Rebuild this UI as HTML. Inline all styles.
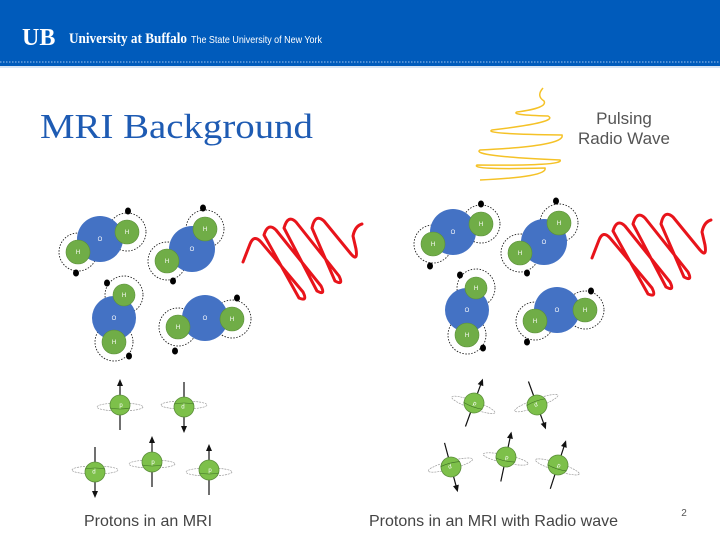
<!DOCTYPE html>
<html><head><meta charset="utf-8"><style>
html,body{margin:0;padding:0;background:#fff}
svg{display:block}
</style></head><body>
<svg width="720" height="540" viewBox="0 0 720 540" xmlns="http://www.w3.org/2000/svg" font-family="Liberation Sans, sans-serif">
<defs>
<g id="w">
<path d="M243,262 L250,244 Q254,234 261,242 L303,292 Q308,302 299,298 L264,235 Q268,222 276,230 L321,286 Q326,296 317,291 L284,228 Q288,214 296,222 L339,276 Q344,286 335,281 L312,228 Q315,213 324,221 L351,254 Q358,262 356,249 L353,236 Q355,226 362,224" fill="none" stroke="#e8141b" stroke-width="3" stroke-linejoin="round" stroke-linecap="round"/>
</g>
</defs>
<rect x="0" y="0" width="720" height="68" fill="#005bbb"/>
<line x1="0" y1="62" x2="720" y2="62" stroke="#9fc3ee" stroke-width="1" stroke-dasharray="1.5,1.5"/>
<rect x="0" y="66" width="720" height="2" fill="#d9e6f5"/>
<text x="22" y="45" fill="#fff" font-family="Liberation Serif, serif" font-weight="bold" font-size="24">UB</text>
<text x="69" y="43" fill="#fff" font-family="Liberation Serif, serif" font-weight="bold" font-size="15" textLength="118" lengthAdjust="spacingAndGlyphs">University at Buffalo</text>
<text x="191" y="43" fill="#fff" font-size="10.5" textLength="131" lengthAdjust="spacingAndGlyphs">The State University of New York</text>

<text x="40" y="138" fill="#1e5bb3" font-family="Liberation Serif, serif" font-size="35" textLength="273" lengthAdjust="spacingAndGlyphs">MRI Background</text>
<text x="624" y="124" fill="#555" font-size="17" text-anchor="middle">Pulsing</text>
<text x="624" y="144" fill="#555" font-size="17" text-anchor="middle">Radio Wave</text>

<path d="M543,88 Q536,96 544,101 Q548,108 517,112 Q510,115 548,116 Q560,122 492,130 Q482,134 562,135 Q566,146 480,150 Q470,156 560,160 Q565,166 477,165 Q470,170 545,168 Q548,177 480,180" fill="none" stroke="#f5c227" stroke-width="1.5"/>

<use href="#w"/>
<use href="#w" transform="translate(349,-4)"/>

<g stroke="#222" stroke-width="0.9" stroke-dasharray="1.5,1.5" fill="none">
<circle cx="127" cy="232" r="19"/><circle cx="78" cy="252" r="19"/>
<circle cx="205" cy="229" r="19"/><circle cx="167" cy="261" r="19"/>
<circle cx="124" cy="295" r="19"/><circle cx="114" cy="342" r="19"/>
<circle cx="232" cy="319" r="19"/><circle cx="178" cy="327" r="19"/>
<circle cx="481" cy="224" r="19"/><circle cx="433" cy="244" r="19"/>
<circle cx="559" cy="223" r="19"/><circle cx="520" cy="253" r="19"/>
<circle cx="476" cy="288" r="19"/><circle cx="467" cy="335" r="19"/>
<circle cx="585" cy="310" r="19"/><circle cx="535" cy="321" r="19"/>
</g>
<g fill="#4472c4">
<circle cx="100" cy="239" r="23"/><circle cx="192" cy="249" r="23"/>
<circle cx="114" cy="318" r="22"/><circle cx="205" cy="318" r="23"/>
<circle cx="453" cy="232" r="23"/><circle cx="544" cy="242" r="23"/>
<circle cx="467" cy="310" r="22"/><circle cx="557" cy="310" r="23"/>
</g>
<g fill="#70ad47" stroke="#5b8f3a" stroke-width="0.6">
<circle cx="127" cy="232" r="12"/><circle cx="78" cy="252" r="12"/>
<circle cx="205" cy="229" r="12"/><circle cx="167" cy="261" r="12"/>
<circle cx="124" cy="295" r="11"/><circle cx="114" cy="342" r="12"/>
<circle cx="232" cy="319" r="12"/><circle cx="178" cy="327" r="12"/>
<circle cx="481" cy="224" r="12"/><circle cx="433" cy="244" r="12"/>
<circle cx="559" cy="223" r="12"/><circle cx="520" cy="253" r="12"/>
<circle cx="476" cy="288" r="11"/><circle cx="467" cy="335" r="12"/>
<circle cx="585" cy="310" r="12"/><circle cx="535" cy="321" r="12"/>
</g>
<g fill="#000">
<ellipse cx="128" cy="211" rx="3" ry="3.5"/><ellipse cx="76" cy="273" rx="3" ry="3.5"/>
<ellipse cx="203" cy="208" rx="3" ry="3.5"/><ellipse cx="173" cy="281" rx="3" ry="3.5"/>
<ellipse cx="107" cy="283" rx="3" ry="3.5"/><ellipse cx="129" cy="356" rx="3" ry="3.5"/>
<ellipse cx="237" cy="298" rx="3" ry="3.5"/><ellipse cx="175" cy="351" rx="3" ry="3.5"/>
<ellipse cx="481" cy="204" rx="3" ry="3.5"/><ellipse cx="430" cy="266" rx="3" ry="3.5"/>
<ellipse cx="556" cy="201" rx="3" ry="3.5"/><ellipse cx="527" cy="273" rx="3" ry="3.5"/>
<ellipse cx="460" cy="275" rx="3" ry="3.5"/><ellipse cx="483" cy="348" rx="3" ry="3.5"/>
<ellipse cx="591" cy="291" rx="3" ry="3.5"/><ellipse cx="527" cy="342" rx="3" ry="3.5"/>
</g>
<g fill="#fff" font-size="6" text-anchor="middle">
<text x="100" y="241">O</text><text x="127" y="234">H</text><text x="78" y="254">H</text>
<text x="192" y="251">O</text><text x="205" y="231">H</text><text x="167" y="263">H</text>
<text x="114" y="320">O</text><text x="124" y="297">H</text><text x="114" y="344">H</text>
<text x="205" y="320">O</text><text x="232" y="321">H</text><text x="178" y="329">H</text>
<text x="453" y="234">O</text><text x="481" y="226">H</text><text x="433" y="246">H</text>
<text x="544" y="244">O</text><text x="559" y="225">H</text><text x="520" y="255">H</text>
<text x="467" y="312">O</text><text x="476" y="290">H</text><text x="467" y="337">H</text>
<text x="557" y="312">O</text><text x="585" y="312">H</text><text x="535" y="323">H</text>
</g>

<defs>
<g id="pu">
<line x1="0" y1="25" x2="0" y2="-20" stroke="#111" stroke-width="1.2"/>
<path d="M-3,-19 L0,-26 L3,-19 Z" fill="#111"/>
<ellipse cx="0" cy="2" rx="23" ry="4" fill="none" stroke="#999" stroke-width="0.7" stroke-dasharray="2,1"/>
<circle cx="0" cy="0" r="10" fill="#7dc04a" stroke="#5b8f3a" stroke-width="0.8"/>
<path d="M-10,3 Q0,5 10,3" stroke="#3d6e25" stroke-width="0.6" fill="none"/>
<text x="1" y="2" fill="#fff" font-size="6" text-anchor="middle">p</text>
</g>
</defs>
<use href="#pu" transform="translate(120,405)"/>
<use href="#pu" transform="translate(184,407) rotate(180)"/>
<use href="#pu" transform="translate(95,472) rotate(180)"/>
<use href="#pu" transform="translate(152,462)"/>
<use href="#pu" transform="translate(209,470)"/>
<use href="#pu" transform="translate(474,403) rotate(20)"/>
<use href="#pu" transform="translate(537,405) rotate(160)"/>
<use href="#pu" transform="translate(451,467) rotate(165)"/>
<use href="#pu" transform="translate(506,457) rotate(12)"/>
<use href="#pu" transform="translate(558,465) rotate(18)"/>

<text x="84" y="526" fill="#444" font-size="16">Protons in an MRI</text>
<text x="369" y="526" fill="#444" font-size="16">Protons in an MRI with Radio wave</text>
<text x="684" y="516" fill="#555" font-size="10" text-anchor="middle">2</text>
</svg>
</body></html>
